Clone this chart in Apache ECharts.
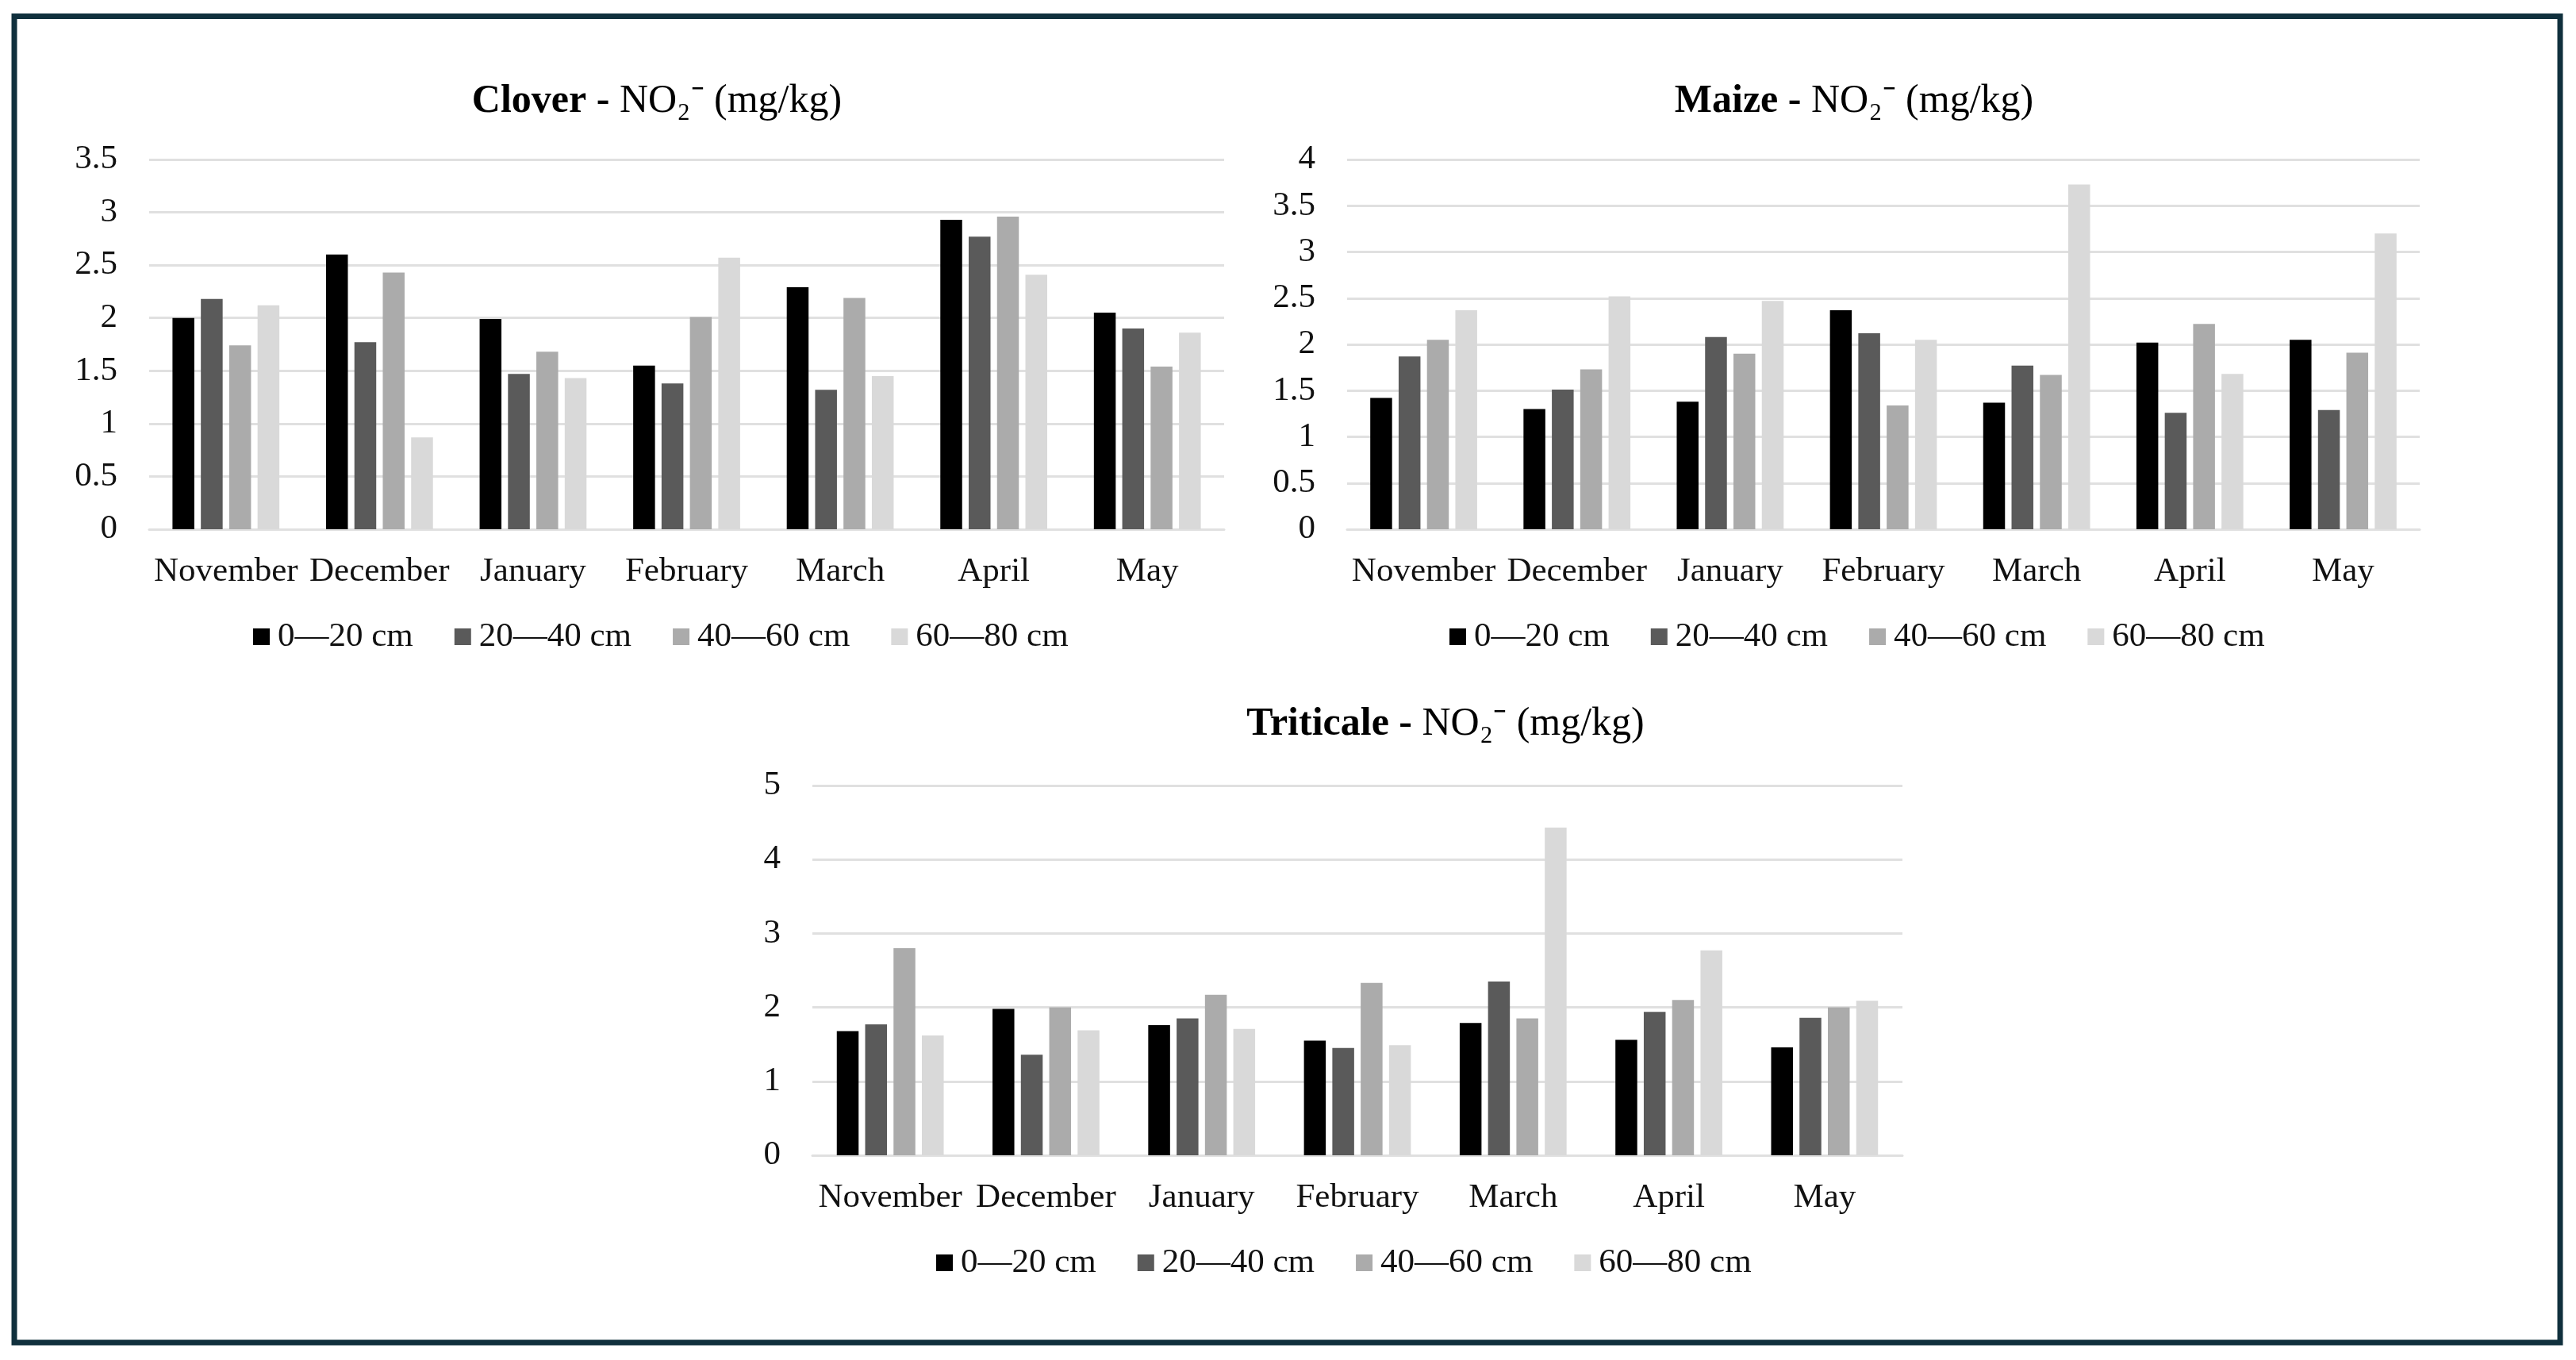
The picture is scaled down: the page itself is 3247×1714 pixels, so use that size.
<!DOCTYPE html>
<html>
<head>
<meta charset="utf-8">
<script src="https://cdn.jsdelivr.net/npm/echarts@6/dist/echarts.min.js"></script>
<style>
html, body { margin: 0; padding: 0; background: #ffffff; }
#chart { width: 3247px; height: 1714px; }
</style>
</head>
<body>
<div id="chart"></div>
<script>
// ---- data ----
const months = ['November', 'December', 'January', 'February', 'March', 'April', 'May'];
const depths = ['0—20 cm', '20—40 cm', '40—60 cm', '60—80 cm'];

const clover0_20  = [2.00, 2.60, 1.99, 1.55, 2.29, 2.93, 2.05];
const clover20_40 = [2.18, 1.77, 1.47, 1.38, 1.32, 2.77, 1.90];
const clover40_60 = [1.74, 2.43, 1.68, 2.01, 2.19, 2.96, 1.54];
const clover60_80 = [2.12, 0.87, 1.43, 2.57, 1.45, 2.41, 1.86];

const maize0_20  = [1.42, 1.30, 1.38, 2.37, 1.37, 2.02, 2.05];
const maize20_40 = [1.87, 1.51, 2.08, 2.12, 1.77, 1.26, 1.29];
const maize40_60 = [2.05, 1.73, 1.90, 1.34, 1.67, 2.22, 1.91];
const maize60_80 = [2.37, 2.52, 2.47, 2.05, 3.73, 1.68, 3.20];

const triticale0_20  = [1.68, 1.98, 1.76, 1.55, 1.79, 1.56, 1.46];
const triticale20_40 = [1.77, 1.36, 1.85, 1.45, 2.35, 1.94, 1.86];
const triticale40_60 = [2.80, 2.00, 2.17, 2.33, 1.85, 2.10, 2.00];
const triticale60_80 = [1.62, 1.69, 1.71, 1.49, 4.43, 2.77, 2.09];

const cropNames = ['Clover', 'Maize', 'Triticale'];
const titleSuffix = 'NO₂⁻ (mg/kg)';
const yMax = [3.5, 4, 5];
const yStep = [0.5, 0.5, 1];

// ---- styling / layout ----
const FONT = "'Liberation Serif', 'Times New Roman', serif";
const barColors = ['#000000', '#5a5a5a', '#ababab', '#d9d9d9'];
const gridColor = '#e0e0e0';
const txtColor = '#111111';

const grids = [
  { left: 188, top: 201, width: 1355, height: 466 },
  { left: 1698, top: 201, width: 1352, height: 466 },
  { left: 1024, top: 990, width: 1374, height: 466 }
];
const titlePos = [[828, 128], [2337, 128], [1822, 913]];
const legendPos = [[314, 776], [1822, 776], [1175, 1565]];

const cropData = [
  [clover0_20, clover20_40, clover40_60, clover60_80],
  [maize0_20, maize20_40, maize40_60, maize60_80],
  [triticale0_20, triticale20_40, triticale40_60, triticale60_80]
];

const xAxes = [], yAxes = [], series = [], legends = [], graphics = [];

graphics.push({
  type: 'rect',
  shape: { x: 18, y: 20.5, width: 3209, height: 1671.5 },
  style: { fill: 'none', stroke: '#10303d', lineWidth: 7 },
  z: 100
});

for (let c = 0; c < 3; c++) {
  xAxes.push({
    type: 'category',
    gridIndex: c,
    data: months,
    axisTick: { show: false },
    axisLine: { lineStyle: { color: gridColor, width: 3 } },
    axisLabel: { interval: 0, margin: 32, fontFamily: FONT, fontSize: 43, color: txtColor }
  });
  yAxes.push({
    type: 'value',
    gridIndex: c,
    min: 0,
    max: yMax[c],
    interval: yStep[c],
    axisLine: { show: false },
    axisTick: { show: false },
    splitLine: { lineStyle: { color: gridColor, width: 3 } },
    axisLabel: { margin: 40, fontFamily: FONT, fontSize: 43, color: txtColor }
  });
  for (let d = 0; d < 4; d++) {
    series.push({
      type: 'bar',
      name: depths[d],
      xAxisIndex: c,
      yAxisIndex: c,
      data: cropData[c][d],
      barWidth: 27.5,
      barGap: '30%',
      itemStyle: { color: barColors[d] }
    });
  }
  legends.push({
    data: depths,
    left: legendPos[c][0],
    top: legendPos[c][1],
    icon: 'rect',
    itemWidth: 21,
    itemHeight: 21,
    itemGap: 52,
    selectedMode: false,
    textStyle: { fontFamily: FONT, fontSize: 43, color: txtColor, padding: [0, 0, 0, 5] }
  });
  graphics.push({
    type: 'text',
    x: titlePos[c][0],
    y: titlePos[c][1],
    style: {
      text: '{b|' + cropNames[c] + ' - }{n|' + titleSuffix + '}',
      align: 'center',
      verticalAlign: 'middle',
      textAlign: 'center',
      textVerticalAlign: 'middle',
      rich: {
        b: { fontFamily: FONT, fontSize: 50, fontWeight: 'bold', fill: '#000', color: '#000' },
        n: { fontFamily: FONT, fontSize: 50, fill: '#000', color: '#000' }
      }
    }
  });
}

const chart = echarts.init(document.getElementById('chart'), null, { renderer: 'canvas' });
chart.setOption({
  backgroundColor: '#ffffff',
  animation: false,
  grid: grids,
  xAxis: xAxes,
  yAxis: yAxes,
  legend: legends,
  series: series,
  graphic: graphics
});
</script>
</body>
</html>
